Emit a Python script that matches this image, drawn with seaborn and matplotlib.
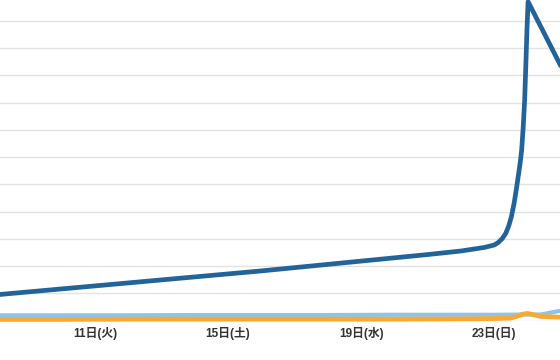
import matplotlib
matplotlib.use("Agg")
import matplotlib.pyplot as plt
import seaborn as sns
import pandas as pd

# --- data (x in day-of-month, y in gridline units) ---
blue_days = [8, 9, 10, 11, 12, 13, 14, 15, 16, 17, 18, 19, 20, 21, 22, 22.7, 23,
             23.12, 23.24, 23.35, 23.44, 23.52, 23.6, 23.68, 23.782, 23.827, 23.872,
             23.917, 23.953, 23.986, 24.02, 25]
blue_vals = [0.94, 1.05, 1.16, 1.27, 1.38, 1.49, 1.60, 1.71, 1.82, 1.94, 2.06, 2.18,
             2.30, 2.42, 2.55, 2.68, 2.77,
             2.86, 3.0, 3.2, 3.48, 3.82, 4.3, 4.92, 5.78, 6.26, 7.06,
             8.09, 9.38, 10.66, 11.70, 9.35]

light_days = [8, 10, 12, 14, 16, 18, 20, 22, 23, 24, 24.4, 25]
light_vals = [0.19, 0.19, 0.19, 0.20, 0.20, 0.20, 0.21, 0.21, 0.21, 0.22, 0.22, 0.36]

orange_days = [8, 10, 12, 14, 16, 18, 20, 22, 23, 23.5, 23.7, 23.85, 24.0, 24.15, 24.4, 25]
orange_vals = [0.04, 0.04, 0.05, 0.05, 0.05, 0.05, 0.05, 0.06, 0.07, 0.09, 0.16, 0.23,
               0.26, 0.22, 0.15, 0.12]

tick_days = [11, 15, 19, 23]
tick_labels = ["11日(火)", "15日(土)", "19日(水)", "23日(日)"]

sns.set_theme(style="white")
plt.rcParams["font.family"] = ["Liberation Sans", "Noto Sans CJK JP", "DejaVu Sans"]

fig = plt.figure(figsize=(5.6, 3.6), dpi=100)
ax = fig.add_axes([0, 39.5 / 360, 1, 320.5 / 360])

dfb = pd.DataFrame({"day": blue_days, "v": blue_vals})
dfl = pd.DataFrame({"day": light_days, "v": light_vals})
dfo = pd.DataFrame({"day": orange_days, "v": orange_vals})

ax.set_yticks(range(0, 12))
ax.grid(axis="y", color="#e2e2e2", linewidth=1.0)
ax.grid(axis="x", visible=False)
ax.set_axisbelow(True)

kw = dict(estimator=None, sort=False, ax=ax, legend=False)
sns.lineplot(data=dfl, x="day", y="v", color="#8fc3ea", linewidth=3.0,
             solid_joinstyle="round", solid_capstyle="round", clip_on=False, **kw)
sns.lineplot(data=dfo, x="day", y="v", color="#f8a934", linewidth=3.4,
             solid_joinstyle="round", solid_capstyle="round", clip_on=False, **kw)
sns.lineplot(data=dfb, x="day", y="v", color="#22649a", linewidth=3.4,
             solid_joinstyle="round", solid_capstyle="round", **kw)

ax.set_xlim(8.14, 24.98)
ax.set_ylim(0, 320.5 / 27.25)
ax.set_xticks(tick_days)
ax.set_xticklabels(tick_labels, fontsize=8.5, fontweight="bold", color="#333333")
ax.tick_params(axis="x", length=0, pad=5)
ax.tick_params(axis="y", length=0, labelleft=False)
ax.set_xlabel("")
ax.set_ylabel("")
for s in ax.spines.values():
    s.set_visible(False)

fig.savefig("out.png", dpi=100)
